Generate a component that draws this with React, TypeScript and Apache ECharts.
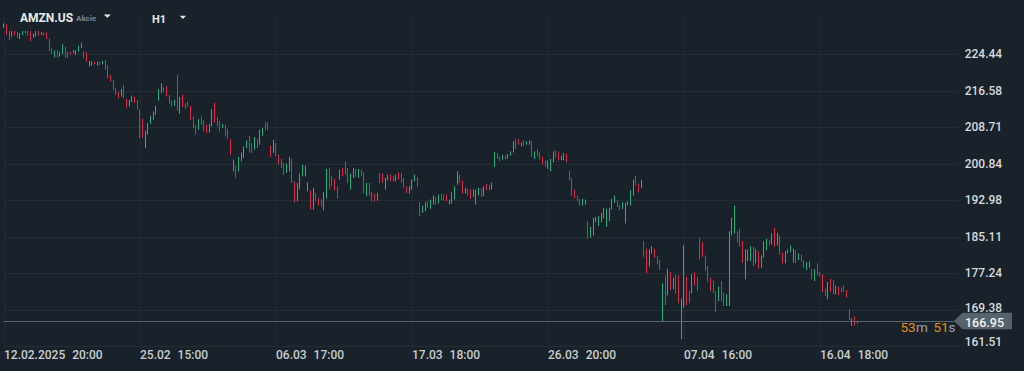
import React, { useEffect, useRef } from 'react';
import * as echarts from 'echarts';

// ---------- categories (hourly sessions) ----------
const firstDay = '12.02';
const firstDayHours = [20, 21];
const daysWinter = ['13.02', '14.02', '18.02', '19.02', '20.02', '21.02', '24.02', '25.02', '26.02', '27.02', '28.02', '03.03', '04.03', '05.03', '06.03', '07.03'];
const hoursWinter = [15, 16, 17, 18, 19, 20, 21];
const daysShift = ['10.03', '11.03', '12.03', '13.03', '14.03', '17.03', '18.03', '19.03', '20.03', '21.03', '24.03', '25.03', '26.03', '27.03', '28.03'];
const hoursShift = [14, 15, 16, 17, 18, 19, 20];
const daysSummer = ['31.03', '01.04', '02.04', '03.04', '04.04', '07.04', '08.04', '09.04', '10.04', '11.04', '14.04', '15.04', '16.04', '17.04', '21.04', '22.04', '23.04', '24.04', '25.04', '28.04'];
const hoursSummer = [15, 16, 17, 18, 19, 20, 21];

// ---------- x tick labels ----------
const xTickIndex = [0, 51, 102, 153, 204, 255, 306];
const xTickDates = ['12.02.2025', '25.02', '06.03', '17.03', '26.03', '07.04', '16.04'];
const xTickTimes = ['20:00', '15:00', '17:00', '18:00', '20:00', '16:00', '18:00'];

// ---------- y tick labels ----------
const yMin = 161.51;
const yStep = 7.86625;
const yTickLabels = ['161.51', '169.38', '177.24', '185.11', '192.98', '200.84', '208.71', '216.58', '224.44'];

const currentPrice = 166.95;
const countdownMin = '53';
const countdownSec = '51';

// ---------- candles [open, close, low, high] ----------
const candlesA = [
  [230.3, 230.95, 230.16, 231.10], [230.75, 228.8, 228.59, 230.89], [229.2, 227.7, 227.51, 229.45], [228.35, 229.3, 228.22, 229.45],
  [229.3, 228.6, 228.44, 229.45], [229.1, 228.1, 227.94, 229.23], [227.9, 228.85, 227.73, 229.02], [228.7, 229.3, 228.59, 229.45],
  [229.1, 229.35, 229.02, 229.45], [229.35, 228.55, 228.44, 229.45], [229.2, 227.5, 227.30, 229.45], [228.1, 228.85, 228.01, 228.95],
  [228.4, 229.3, 228.22, 229.45], [229.3, 228.6, 228.44, 229.45], [228.7, 229.1, 228.59, 229.17], [229.1, 228.55, 228.44, 229.17],
  [229.0, 227.9, 227.73, 229.17], [227.7, 225.35, 225.15, 227.88], [225.6, 224.6, 224.44, 225.73], [224.0, 225.1, 223.80, 225.30],
  [225.2, 223.9, 223.71, 225.37], [224.1, 224.85, 223.93, 225.00], [224.6, 226.3, 224.44, 226.59], [225.9, 223.9, 223.71, 226.07],
  [224.85, 223.85, 223.71, 225.00], [224.9, 224.55, 224.44, 225.00], [224.75, 225.25, 224.65, 225.37], [224.4, 225.2, 224.29, 225.37],
  [225.15, 226.1, 225.00, 226.29], [225.9, 226.8, 225.73, 226.93], [225.0, 223.75, 223.58, 225.15], [224.7, 223.0, 222.85, 224.87],
  [221.95, 222.85, 221.78, 223.00], [222.1, 222.9, 221.99, 223.00], [222.75, 222.4, 222.29, 222.85], [222.1, 222.75, 221.99, 222.85],
  [222.75, 222.25, 222.14, 222.85], [222.4, 222.9, 222.29, 223.00], [223.0, 221.3, 221.07, 223.22], [221.9, 219.5, 219.28, 222.14],
  [219.8, 218.7, 218.55, 219.99], [218.7, 217.0, 216.77, 218.92], [217.0, 215.85, 215.69, 217.13], [216.1, 215.1, 214.98, 216.27],
  [215.5, 216.8, 215.33, 216.98], [217.5, 215.2, 214.98, 217.84], [214.65, 213.15, 212.97, 214.83], [213.35, 214.45, 213.18, 214.62],
  [214.3, 215.35, 214.13, 215.54], [215.1, 214.1, 213.98, 215.27], [214.4, 212.7, 212.47, 214.62],
];
const candlesB = [
  [212.2, 206.7, 206.39, 212.47], [210.3, 206.7, 206.45, 210.54], [204.5, 207.7, 204.24, 208.02], [207.3, 209.4, 207.10, 209.68],
  [209.6, 211.0, 209.46, 211.18], [210.5, 211.9, 210.32, 212.11], [211.6, 213.1, 211.40, 213.33], [214.7, 216.7, 214.47, 216.92],
  [216.3, 217.95, 216.06, 218.21], [217.2, 216.55, 216.40, 217.35], [217.4, 215.5, 215.33, 217.63], [215.5, 213.95, 213.76, 215.69],
  [214.3, 213.35, 213.18, 214.47], [213.5, 214.45, 213.33, 214.62], [215.8, 213.2, 212.32, 219.99], [212.0, 214.9, 211.61, 215.27],
  [215.4, 213.3, 213.05, 215.69], [213.75, 212.8, 212.62, 213.91], [214.1, 213.35, 213.18, 214.25], [213.1, 210.6, 210.32, 213.33],
  [210.8, 208.8, 208.54, 211.03], [209.0, 207.3, 207.10, 209.25], [208.4, 210.2, 208.17, 210.47], [210.8, 209.45, 209.25, 211.03],
  [209.9, 208.0, 207.81, 210.17], [209.0, 207.65, 207.46, 209.25], [207.8, 209.2, 207.59, 209.46], [209.1, 212.4, 208.88, 212.69],
  [213.6, 210.0, 209.68, 213.98], [210.7, 209.1, 208.88, 210.97], [209.9, 208.0, 207.81, 210.11], [208.65, 209.35, 208.54, 209.46],
  [209.0, 207.0, 206.73, 209.25], [208.2, 206.4, 206.18, 208.39], [205.9, 203.1, 202.80, 206.18], [199.5, 201.5, 199.21, 201.73],
  [200.2, 198.0, 197.79, 200.44], [199.5, 202.0, 199.21, 202.31], [201.55, 203.1, 201.36, 203.29], [202.3, 204.35, 202.09, 204.58],
  [204.4, 205.7, 204.24, 205.87], [206.6, 203.6, 203.29, 206.88], [205.1, 203.4, 203.17, 205.31], [204.1, 206.35, 203.87, 206.60],
  [206.0, 204.45, 204.24, 206.18], [205.2, 207.9, 204.95, 208.17], [207.0, 208.35, 206.88, 208.54], [209.75, 208.2, 208.02, 209.96],
  [209.5, 208.2, 208.02, 209.74], [204.5, 202.5, 202.31, 204.73], [203.4, 205.8, 203.17, 206.02],
];
const candlesC = [
  [205.1, 202.7, 202.44, 205.31], [202.6, 200.9, 200.65, 202.80], [201.7, 200.1, 199.94, 201.88], [200.8, 198.7, 198.50, 201.02],
  [199.05, 200.65, 198.87, 200.87], [199.5, 202.0, 199.21, 202.31], [201.6, 197.0, 196.72, 201.88], [196.8, 192.9, 192.55, 197.06],
  [193.1, 196.4, 192.76, 196.72], [195.6, 198.4, 195.28, 198.72], [198.4, 200.4, 198.14, 200.65], [198.4, 200.2, 198.14, 200.44],
  [195.1, 196.65, 194.91, 196.85], [194.9, 191.3, 190.98, 195.13], [191.3, 195.3, 190.98, 195.64], [194.4, 192.95, 192.76, 194.57],
  [193.3, 192.0, 191.84, 193.49], [193.0, 191.75, 191.56, 193.13], [191.2, 194.4, 190.83, 194.70], [193.7, 199.4, 193.35, 199.73],
  [199.6, 195.6, 195.28, 199.94], [198.1, 196.2, 195.99, 198.29], [197.4, 195.35, 195.13, 197.58], [195.8, 193.6, 193.35, 195.99],
  [197.6, 199.4, 197.43, 199.58], [199.8, 198.3, 198.14, 199.94], [201.1, 198.7, 198.50, 201.36], [199.7, 197.0, 196.72, 199.94],
  [195.6, 198.4, 195.28, 198.72], [198.0, 199.7, 197.79, 199.94], [199.55, 198.2, 198.01, 199.73], [198.0, 199.55, 197.79, 199.73],
  [199.45, 198.45, 198.29, 199.58], [198.8, 194.7, 194.42, 199.00], [194.1, 196.45, 193.84, 196.72], [196.5, 194.2, 193.99, 196.72],
  [194.6, 193.0, 192.76, 194.85], [194.25, 192.95, 192.76, 194.42], [193.1, 194.4, 192.91, 194.57], [198.6, 196.95, 196.72, 198.87],
  [198.5, 196.9, 196.72, 198.72], [195.5, 197.6, 195.28, 197.79], [197.45, 198.35, 197.28, 198.50], [198.35, 197.2, 197.06, 198.50],
  [198.15, 197.2, 197.06, 198.29], [197.2, 198.35, 197.06, 198.50], [198.85, 197.6, 197.43, 199.00], [198.7, 196.9, 196.72, 198.87],
  [197.6, 195.85, 195.64, 197.79], [195.85, 194.7, 194.57, 195.99], [194.6, 195.8, 194.42, 195.99], [195.5, 197.2, 195.28, 197.43],
];
const candlesD = [
  [197.2, 198.35, 197.06, 198.50], [197.85, 196.05, 195.86, 198.01], [192.3, 189.8, 189.54, 192.55], [190.45, 191.65, 190.27, 191.84],
  [190.8, 192.3, 190.62, 192.55], [192.6, 191.5, 191.35, 192.76], [191.3, 192.9, 191.13, 193.13], [192.25, 193.8, 192.06, 193.99],
  [193.55, 192.25, 192.06, 193.71], [192.45, 194.0, 192.27, 194.20], [194.25, 193.15, 192.98, 194.42], [194.05, 193.15, 192.98, 194.20],
  [194.05, 192.95, 192.76, 194.20], [192.2, 192.95, 192.06, 193.13], [192.45, 194.5, 192.27, 194.70], [193.35, 195.75, 193.13, 195.99],
  [196.6, 198.95, 196.35, 199.21], [198.3, 196.9, 196.72, 198.50], [197.05, 194.65, 194.42, 197.28], [194.55, 195.5, 194.42, 195.64],
  [195.25, 194.15, 193.99, 195.43], [195.1, 193.45, 193.28, 195.28], [193.85, 195.1, 193.71, 195.28], [192.3, 195.05, 192.06, 195.28],
  [194.15, 195.45, 193.99, 195.64], [195.3, 193.9, 193.71, 195.49], [194.05, 195.8, 193.84, 195.99], [196.35, 195.3, 195.13, 196.50],
  [196.1, 195.3, 195.13, 196.25], [195.45, 196.6, 195.28, 196.78], [200.4, 203.1, 200.16, 203.38], [203.0, 202.05, 201.88, 203.17],
  [202.3, 201.5, 201.36, 202.44], [201.85, 202.65, 201.73, 202.80], [202.45, 201.85, 201.73, 202.59], [202.05, 202.8, 201.94, 202.95],
  [202.7, 203.35, 202.59, 203.51], [203.5, 205.4, 203.29, 205.66], [206.0, 204.25, 204.02, 206.24], [206.05, 205.1, 204.95, 206.18],
  [204.7, 205.3, 204.58, 205.44], [205.7, 204.85, 204.73, 205.87], [205.05, 205.55, 204.95, 205.66], [205.05, 205.75, 204.95, 205.87],
  [205.6, 202.6, 202.31, 205.87], [202.05, 203.3, 201.88, 203.51], [203.85, 202.6, 202.44, 204.02], [203.1, 201.9, 201.73, 203.29],
  [202.25, 200.85, 200.65, 202.44], [201.45, 200.3, 200.16, 201.58], [199.9, 201.4, 199.73, 201.58],
];
const candlesE = [
  [199.45, 201.65, 199.21, 201.88], [201.35, 203.3, 201.15, 203.51], [203.55, 202.25, 202.09, 203.72], [203.35, 201.75, 201.58, 203.51],
  [201.7, 202.45, 201.58, 202.59], [201.75, 203.0, 201.58, 203.17], [202.85, 201.35, 201.15, 203.02], [199.2, 197.5, 197.28, 199.36],
  [197.6, 194.25, 193.99, 197.79], [195.1, 193.7, 193.49, 195.28], [193.85, 192.9, 192.76, 193.99], [193.1, 192.0, 191.84, 193.28],
  [192.0, 193.1, 191.84, 193.28], [192.2, 192.95, 192.06, 193.13], [188.2, 185.0, 184.68, 188.47], [185.2, 187.0, 184.90, 187.26],
  [185.7, 188.9, 185.39, 189.20], [188.4, 189.25, 188.25, 189.41], [187.6, 189.3, 187.39, 189.54], [188.4, 190.1, 188.25, 190.27],
  [189.2, 191.1, 188.98, 191.35], [187.6, 190.85, 187.26, 191.13], [188.7, 191.1, 188.47, 191.35], [191.2, 193.0, 190.98, 193.28],
  [192.6, 193.8, 192.42, 193.99], [192.8, 191.75, 191.56, 192.98], [191.9, 191.0, 190.83, 192.06], [191.3, 192.35, 191.13, 192.55],
  [188.4, 192.1, 187.97, 192.42], [192.0, 192.6, 191.84, 192.76], [192.1, 194.85, 191.84, 195.13], [194.3, 197.15, 193.99, 197.43],
  [198.05, 196.35, 196.14, 198.29], [196.35, 194.9, 194.70, 196.57], [195.8, 197.2, 195.64, 197.43], [184.0, 181.0, 180.81, 184.17],
  [182.3, 177.5, 177.23, 182.54], [178.9, 182.1, 178.67, 182.38], [181.7, 182.9, 181.53, 183.09], [182.35, 180.8, 180.60, 182.54],
  [180.75, 179.35, 179.16, 180.94], [179.9, 178.15, 177.94, 180.09], [171.8, 174.6, 166.76, 175.08], [176.5, 170.8, 170.35, 176.80],
  [172.9, 177.9, 172.50, 178.24], [177.2, 174.0, 173.64, 177.51], [174.1, 176.0, 173.79, 176.30], [176.7, 173.3, 172.93, 177.01],
  [176.4, 171.2, 170.78, 176.80], [164.5, 171.5, 163.04, 171.79], [171.2, 176.2, 169.86, 183.24],
];
const candlesF = [
  [176.2, 170.8, 170.35, 176.52], [173.2, 171.1, 170.78, 173.42], [173.3, 176.7, 172.93, 177.01], [177.1, 175.0, 174.65, 177.38],
  [176.3, 173.8, 173.42, 176.52], [184.6, 180.6, 180.24, 184.90], [183.7, 181.1, 180.81, 183.95], [180.8, 178.0, 177.72, 181.09],
  [178.5, 175.7, 175.36, 178.80], [176.0, 173.7, 173.42, 176.30], [175.4, 173.3, 172.93, 175.72], [173.1, 169.3, 168.91, 173.42],
  [171.6, 174.0, 171.27, 174.37], [175.2, 171.6, 171.27, 175.57], [172.8, 170.5, 170.20, 173.08], [170.5, 172.4, 170.20, 172.71],
  [172.4, 185.8, 170.20, 186.32], [185.7, 188.9, 185.39, 189.20], [186.5, 190.5, 185.82, 191.84], [186.1, 184.3, 183.95, 186.32],
  [186.5, 183.4, 183.09, 186.83], [183.9, 179.9, 179.53, 184.17], [176.4, 181.9, 175.94, 182.38], [180.2, 182.0, 179.87, 182.38],
  [180.2, 182.8, 179.87, 183.09], [182.7, 179.1, 178.80, 182.96], [179.7, 182.2, 179.38, 182.54], [181.7, 178.6, 178.24, 182.02],
  [178.8, 180.8, 178.45, 181.09], [180.9, 183.9, 180.60, 184.17], [182.5, 184.4, 182.24, 184.68], [184.2, 183.4, 183.24, 184.38],
  [183.7, 185.6, 183.46, 185.82], [186.7, 183.3, 182.96, 187.05], [183.5, 185.7, 183.24, 185.97], [185.1, 181.6, 181.31, 185.39],
  [181.5, 179.6, 179.38, 181.67], [179.6, 181.8, 179.38, 182.02], [181.7, 182.2, 181.53, 182.38], [182.0, 183.0, 181.80, 183.24],
  [179.8, 182.3, 179.53, 182.54], [182.0, 179.6, 179.38, 182.24], [180.3, 181.3, 180.09, 181.53], [181.1, 179.9, 179.66, 181.31],
  [179.9, 178.6, 178.45, 180.09], [178.1, 179.5, 177.94, 179.66], [178.6, 179.7, 178.45, 179.87], [178.0, 176.1, 175.94, 178.24],
  [175.8, 177.9, 175.57, 178.09], [179.2, 177.0, 176.80, 179.38], [177.4, 176.7, 176.52, 177.51], [176.8, 173.4, 173.21, 177.01],
  [173.8, 172.5, 172.35, 173.94], [171.8, 175.1, 171.64, 175.36], [175.9, 173.4, 173.21, 176.09], [175.6, 172.9, 172.71, 175.79],
  [172.9, 174.5, 172.71, 174.65], [174.2, 172.7, 172.50, 174.37], [174.0, 173.2, 173.08, 174.15], [174.5, 173.4, 173.21, 174.65],
  [173.5, 172.2, 172.00, 173.64], [169.3, 167.4, 167.19, 169.49], [166.1, 167.3, 165.90, 167.49], [167.7, 166.2, 165.97, 167.92],
  [166.6, 166.95, 166.48, 166.98],
];

const BG = '#19222a';
const GRID = '#232d35';
const UP = '#22b27a';
const DOWN = '#dd2a42';
const FONT = 'Roboto, "Noto Sans", sans-serif';
const YLBL = '#d6dade';

function buildCategories(): string[] {
  const out: string[] = [];
  firstDayHours.forEach((h) => out.push(`${firstDay} ${h}:00`));
  daysWinter.forEach((d) => hoursWinter.forEach((h) => out.push(`${d} ${h}:00`)));
  daysShift.forEach((d) => hoursShift.forEach((h) => out.push(`${d} ${h}:00`)));
  daysSummer.forEach((d) => hoursSummer.forEach((h) => out.push(`${d} ${h}:00`)));
  return out;
}

export default function App() {
  const ref = useRef<HTMLDivElement>(null);
  useEffect(() => {
    if (!ref.current) return;
    const chart = echarts.init(ref.current, null, { renderer: 'svg' });
    const categories = buildCategories();
    const candles = [...candlesA, ...candlesB, ...candlesC, ...candlesD, ...candlesE, ...candlesF];
    const showTick = (i: number) => xTickIndex.indexOf(i) >= 0;

    chart.setOption({
      animation: false,
      backgroundColor: BG,
      grid: { left: 4, right: 65.3, top: 17.8, bottom: 24.7, containLabel: false },
      xAxis: {
        type: 'category',
        data: categories,
        boundaryGap: false,
        axisLine: { show: false },
        axisTick: { show: false },
        splitLine: { show: true, interval: (i: number) => showTick(i), lineStyle: { color: GRID, width: 1 } },
        axisLabel: {
          interval: (i: number) => showTick(i),
          align: 'left',
          margin: 3,
          formatter: (_v: string, i: number) => {
            const k = xTickIndex.indexOf(i);
            return k < 0 ? '' : `{d|${xTickDates[k]}}{t|${xTickTimes[k]}}`;
          },
          rich: {
            d: { color: '#c9cdd1', fontSize: 12, fontFamily: FONT, fontWeight: 500 },
            t: { color: '#c9cdd1', fontSize: 12, fontFamily: FONT, fontWeight: 500, padding: [0, 0, 0, 7] },
          },
        },
      },
      yAxis: {
        type: 'value',
        position: 'right',
        min: yMin,
        max: yMin + yStep * 9,
        interval: yStep,
        axisLine: { show: false },
        axisTick: { show: false },
        splitLine: { show: true, showMaxLine: false, lineStyle: { color: GRID, width: 1 } },
        axisLabel: {
          margin: 6,
          color: YLBL,
          fontSize: 12,
          lineHeight: 12,
          fontFamily: FONT,
          fontWeight: 500,
          formatter: (_v: number, i: number) => {
            const s = yTickLabels[i];
            if (!s) return '';
            if (i === 0) return `{b|${s}}`;
            if (i === 1) return `{c|${s}}`;
            return s;
          },
          rich: {
            b: { color: YLBL, fontSize: 12, lineHeight: 12, fontFamily: FONT, fontWeight: 500, padding: [0, 0, 9, 0] },
            c: { color: YLBL, fontSize: 12, lineHeight: 12, fontFamily: FONT, fontWeight: 500, padding: [0, 0, 4, 0] },
          },
        },
      },
      series: [
        {
          type: 'candlestick',
          data: candles,
          barWidth: 1.3,
          clip: false,
          itemStyle: { color: UP, color0: DOWN, borderColor: UP, borderColor0: DOWN, borderWidth: 1 },
          markLine: {
            silent: true,
            symbol: ['none', 'none'],
            label: { show: false },
            lineStyle: { color: '#58636d', width: 1, type: 'solid' },
            data: [{ yAxis: currentPrice }],
          },
        },
      ],
    });

    const py = chart.convertToPixel({ yAxisIndex: 0 }, currentPrice) as number;
    const txt = (x: number, y: number, text: string, font: string, fill: string, lh = 0) => ({
      type: 'text',
      x,
      y,
      silent: true,
      style: {
        text, font, fill, align: 'left', textAlign: 'left', verticalAlign: 'middle', textVerticalAlign: 'middle',
        ...(lh ? { lineHeight: lh } : {}),
      },
    });

    chart.setOption({
      graphic: [
        txt(20, 18.2, 'AMZN.US', `bold 12px ${FONT}`, '#e8ebee'),
        txt(76, 18.6, 'Akcie', `bold 8px ${FONT}`, '#7c868f'),
        { type: 'polygon', silent: true, shape: { points: [[103.8, 14.4], [110.8, 14.4], [107.3, 17.8]] }, style: { fill: '#e8ebee' } },
        txt(152, 19.6, 'H1', `bold 11px ${FONT}`, '#e8ebee'),
        { type: 'polygon', silent: true, shape: { points: [[179.8, 15.8], [186, 15.8], [182.9, 19]] }, style: { fill: '#e8ebee' } },
        {
          type: 'polygon',
          silent: true,
          shape: { points: [[954, py], [962.5, py - 8.3], [1012, py - 8.3], [1012, py + 8.3], [962.5, py + 8.3]] },
          style: { fill: '#56626c' },
        },
        txt(965, py + 1, currentPrice.toFixed(2), `500 12.5px ${FONT}`, '#f1f3f5', 12),
        txt(900.5, py + 5.5, countdownMin, `13.5px ${FONT}`, '#e48d12'),
        txt(916, py + 5.5, 'm', `13.5px ${FONT}`, '#9aa3aa'),
        txt(933.5, py + 5.5, countdownSec, `13.5px ${FONT}`, '#e48d12'),
        txt(948.5, py + 5.5, 's', `13.5px ${FONT}`, '#9aa3aa'),
      ],
    });

    return () => chart.dispose();
  }, []);

  return (
    <div
      ref={ref}
      style={{ position: 'fixed', left: 0, top: 0, width: 1024, height: 371, background: BG }}
    />
  );
}
